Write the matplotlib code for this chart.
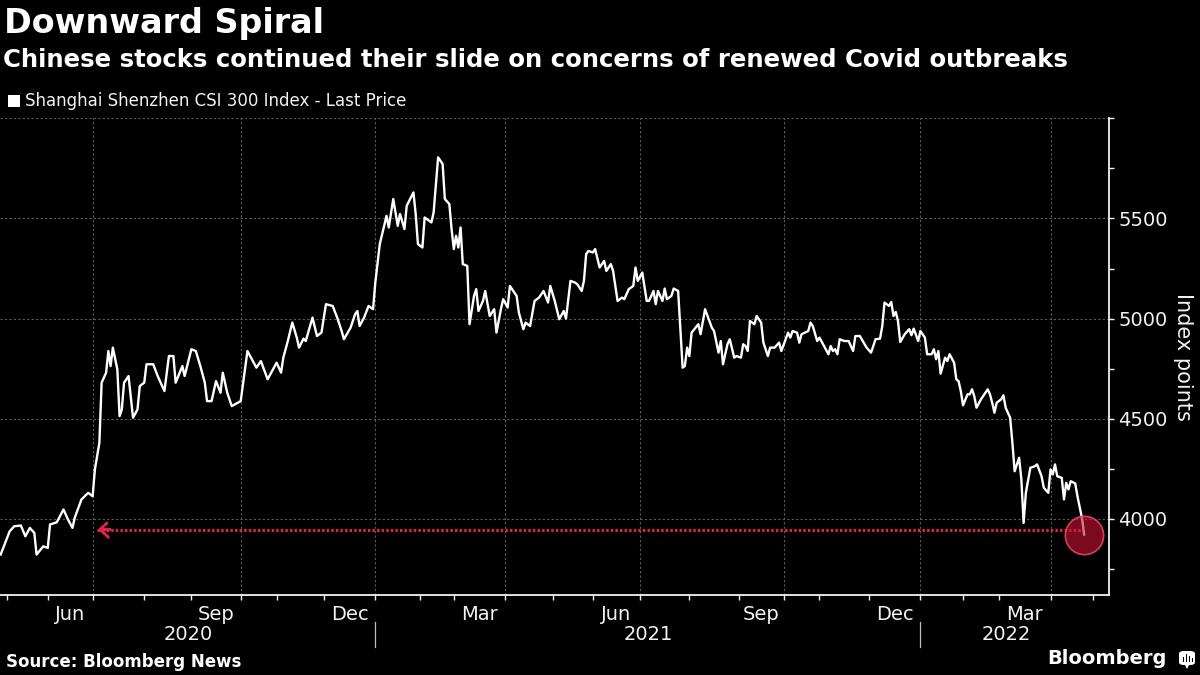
import numpy as np
import matplotlib
matplotlib.use("Agg")
import matplotlib.pyplot as plt
import matplotlib.transforms as mtransforms
from matplotlib.patches import Rectangle, FancyBboxPatch, Polygon

plt.rcParams['font.family'] = ['DejaVu Sans']

# CSI 300 closes, x = trading session number counted from late April 2020
sessions = [0, 2, 4, 6, 9, 11, 13, 15, 16, 19, 21, 22, 25, 28, 30, 32, 33, 36, 39, 41,
            42, 44, 45, 47, 48, 49, 50, 52, 53, 54, 55, 57, 59, 61, 62, 64, 65, 68, 70, 73,
            75, 77, 78, 81, 82, 85, 87, 89, 91, 92, 94, 96, 98, 99, 101, 103, 107, 110, 112, 114,
            116, 119, 123, 125, 126, 128, 130, 132, 133, 135, 136, 139, 141, 143, 145, 148, 150, 152, 153, 156,
            158, 159, 160, 162, 164, 166, 167, 169, 172, 173, 175, 177, 178, 180, 181, 184, 185, 186, 188, 189,
            192, 193, 195, 197, 198, 200, 201, 202, 203, 204, 205, 206, 208, 209, 211, 212, 213, 215, 216, 218,
            220, 221, 223, 224, 226, 227, 230, 231, 233, 234, 236, 238, 240, 242, 244, 245, 247, 249, 251, 252,
            254, 256, 257, 259, 260, 261, 262, 264, 265, 267, 269, 270, 272, 273, 275, 277, 278, 280, 282, 283,
            284, 286, 288, 289, 291, 292, 293, 295, 296, 297, 299, 300, 302, 303, 304, 305, 306, 307, 308, 311,
            312, 314, 317, 318, 320, 321, 322, 324, 325, 327, 328, 330, 331, 332, 333, 334, 336, 337, 339, 340,
            342, 343, 345, 347, 348, 351, 352, 353, 355, 356, 357, 360, 361, 362, 364, 365, 367, 369, 370, 371,
            372, 373, 374, 376, 378, 380, 381, 383, 386, 388, 390, 392, 393, 394, 396, 397, 398, 399, 400, 401,
            403, 405, 406, 407, 409, 410, 412, 413, 415, 416, 417, 418, 419, 421, 422, 423, 425, 426, 427, 428,
            429, 431, 432, 433, 434, 435, 437, 440, 441, 442, 443, 444, 446, 447, 448, 450, 451, 452, 453, 454,
            455, 456, 457, 459, 461, 462, 464, 465, 467, 468, 469, 470, 471, 473, 474, 475, 476, 477, 479, 480,
            482, 483]
prices = [3822, 3880, 3938, 3963, 3967, 3913, 3955, 3930, 3822, 3863, 3855, 3972, 3983, 4047, 3997, 3955, 4005, 4097, 4130, 4113,
          4247, 4380, 4680, 4730, 4838, 4763, 4855, 4747, 4513, 4547, 4680, 4713, 4505, 4547, 4663, 4680, 4772, 4772, 4713, 4638,
          4813, 4813, 4680, 4763, 4713, 4847, 4838, 4763, 4680, 4588, 4588, 4688, 4630, 4730, 4630, 4563, 4588, 4838, 4797, 4755,
          4788, 4697, 4780, 4730, 4805, 4888, 4980, 4905, 4855, 4900, 4888, 5005, 4913, 4930, 5072, 5063, 5005, 4938, 4897, 4955,
          5022, 5038, 4963, 5005, 5063, 5047, 5180, 5372, 5513, 5455, 5597, 5463, 5522, 5447, 5563, 5630, 5522, 5372, 5355, 5505,
          5480, 5530, 5805, 5772, 5597, 5572, 5447, 5347, 5413, 5355, 5455, 5272, 5263, 4972, 5113, 5147, 5038, 5088, 5138, 5013,
          5047, 4930, 5047, 5097, 5055, 5163, 5113, 5030, 4947, 4980, 4963, 5088, 5105, 5138, 5080, 5163, 5088, 4997, 5038, 5000,
          5188, 5180, 5172, 5138, 5188, 5322, 5338, 5330, 5347, 5255, 5288, 5238, 5272, 5238, 5088, 5105, 5097, 5147, 5163, 5255,
          5188, 5230, 5088, 5088, 5138, 5072, 5138, 5088, 5150, 5097, 5113, 5150, 5138, 4947, 4755, 4763, 4855, 4813, 4930, 4972,
          4922, 5047, 4955, 4938, 4830, 4888, 4772, 4872, 4897, 4805, 4813, 4805, 4872, 4863, 4838, 4988, 4972, 5013, 4980, 4880,
          4813, 4855, 4855, 4880, 4838, 4930, 4905, 4938, 4930, 4880, 4922, 4938, 4980, 4963, 4888, 4905, 4863, 4822, 4863, 4838,
          4847, 4822, 4897, 4888, 4888, 4838, 4913, 4913, 4855, 4830, 4897, 4900, 4963, 5080, 5063, 5083, 5013, 5033, 4988, 4883,
          4922, 4947, 4917, 4950, 4888, 4938, 4905, 4822, 4822, 4847, 4797, 4838, 4725, 4805, 4788, 4822, 4780, 4697, 4688, 4638,
          4567, 4622, 4622, 4647, 4613, 4555, 4597, 4647, 4622, 4580, 4530, 4580, 4597, 4617, 4555, 4505, 4380, 4238, 4272, 4305,
          4197, 3980, 4130, 4255, 4263, 4272, 4213, 4155, 4130, 4247, 4222, 4272, 4213, 4205, 4097, 4180, 4147, 4188, 4177, 4113,
          4005, 3922]

# trading sessions per month (first entry: last sessions of April 2020)
month_names = ['Apr', 'May', 'Jun', 'Jul', 'Aug', 'Sep', 'Oct', 'Nov', 'Dec',
               'Jan', 'Feb', 'Mar', 'Apr', 'May', 'Jun', 'Jul', 'Aug', 'Sep', 'Oct', 'Nov', 'Dec',
               'Jan', 'Feb', 'Mar', 'Apr']
month_years = [2020] * 9 + [2021] * 12 + [2022] * 4
month_days = [3, 18, 20, 23, 21, 22, 16, 21, 23,
              20, 15, 23, 21, 18, 21, 22, 22, 20, 16, 22, 23,
              19, 16, 23, 19]
labelled_months = ['Jun', 'Sep', 'Dec', 'Mar']
quarter_starts = ['Jul', 'Oct', 'Jan', 'Apr']

level_price = 3947      # red dotted level
level_from = 42

y_ticks = [4000, 4500, 5000, 5500, 6000]
y_labels = ['4000', '4500', '5000', '5500', '']
y_minor = [3750, 4250, 4750, 5250, 5750]

BG = 'black'
FG = '#f2f2f2'
GRID = '#5c5c5c'
RED = '#d9244c'

W, H = 1200, 675
fig = plt.figure(figsize=(W / 100, H / 100), dpi=100, facecolor=BG)


def fx(px):
    return px / W


def fy(py):
    return 1 - py / H


ax_l, ax_r, ax_t, ax_b = 0, 1109.3, 118.3, 595
ax = fig.add_axes([fx(ax_l), fy(ax_b), fx(ax_r - ax_l), (ax_b - ax_t) / H])
ax.set_facecolor(BG)

starts = np.concatenate([[0], np.cumsum(month_days)])
xmax = 494.2
ax.set_xlim(-0.3, xmax)
ax.set_ylim(3620, 6000)

# grid
for i, m in enumerate(month_names):
    if i > 0 and m in quarter_starts:
        ax.axvline(starts[i], color=GRID, lw=0.8, ls=(0, (2, 2)), zorder=1)
for v in y_ticks:
    ax.axhline(v, color=GRID, lw=0.8, ls=(0, (2, 2)), zorder=1)

ax.plot(sessions, prices, color='white', lw=1.7, zorder=3, solid_joinstyle='round')

# red level line + arrow
ax.hlines(level_price, level_from + 1, sessions[-1], color=RED, lw=2.2,
          linestyles=(0, (0.8, 0.7)), zorder=2)
ax.annotate('', xy=(level_from, level_price), xytext=(level_from + 8, level_price),
            arrowprops=dict(arrowstyle='->,head_length=0.6,head_width=0.55',
                            color=RED, lw=2.2, ls=(0, (0.8, 0.7))), zorder=2)
ax.scatter([sessions[-1]], [prices[-1]], s=760, facecolor=(0.8, 0.08, 0.2, 0.6),
           edgecolor=(0.88, 0.25, 0.4, 0.95), lw=1.2, zorder=4)

# axes styling
for s in ['top', 'left']:
    ax.spines[s].set_visible(False)
for s in ['bottom', 'right']:
    ax.spines[s].set_color(FG)
    ax.spines[s].set_linewidth(1.3)

ax.yaxis.tick_right()
ax.set_yticks(y_ticks)
ax.set_yticklabels(y_labels)
ax.set_yticks(y_minor, minor=True)
ax.tick_params(axis='y', which='both', colors=FG, labelcolor=FG, labelsize=14,
               length=3.5, width=1, pad=3, direction='out')

mids = [(starts[i] + starts[i + 1]) / 2 for i, m in enumerate(month_names) if m in labelled_months]
mlabels = [m for m in month_names if m in labelled_months]
ax.set_xticks(mids)
ax.set_xticklabels(mlabels)
ax.set_xticks(starts[1:], minor=True)
ax.tick_params(axis='x', which='major', length=0, pad=7, labelsize=14, labelcolor=FG)
ax.tick_params(axis='x', which='minor', length=3.5, width=1, color=FG, direction='out')

# year labels and separators
trans = mtransforms.blended_transform_factory(ax.transData, ax.transAxes)
years = sorted(set(month_years))
for yr in years:
    idx = [i for i, y in enumerate(month_years) if y == yr]
    x0 = max(starts[idx[0]], ax.get_xlim()[0])
    x1 = min(starts[idx[-1] + 1], xmax)
    ax.text((x0 + x1) / 2, -0.083, str(yr), transform=trans, ha='center', va='center',
            fontsize=14, color=FG)
    if yr != years[0]:
        ax.plot([starts[idx[0]]] * 2, [-0.057, -0.11], transform=trans, color='#bfbfbf',
                lw=0.9, clip_on=False)

ax.text(1.0 + (1183 - ax_r) / (ax_r - ax_l), 0.5 + (476.7 / 2 - (357 - ax_t)) / 476.7,
        'Index points', transform=ax.transAxes, rotation=270, ha='center', va='center',
        fontsize=15, color=FG)

# titles
fig.text(fx(4), fy(24), 'Downward Spiral', fontsize=24, fontweight='bold', color='white',
         ha='left', va='center')
fig.text(fx(3), fy(60), 'Chinese stocks continued their slide on concerns of renewed Covid outbreaks',
         fontsize=17.6, fontweight='bold', color='white', ha='left', va='center')
fig.patches.append(Rectangle((fx(8), fy(107)), fx(12), 12 / H, transform=fig.transFigure,
                             facecolor='white', edgecolor='none'))
fig.text(fx(25), fy(101), 'Shanghai Shenzhen CSI 300 Index - Last Price', fontsize=12,
         color=FG, ha='left', va='center')

fig.text(fx(6), fy(662), 'Source: Bloomberg News', fontsize=12, fontweight='bold',
         color='white', ha='left', va='center')
fig.text(fx(1167), fy(659), 'Bloomberg', fontsize=14, fontweight='bold', color='white',
         ha='right', va='center')

# little Bloomberg icon
fig.patches.append(FancyBboxPatch((fx(1179), fy(665)), fx(16), 14 / H,
                                  boxstyle='round,pad=0,rounding_size=0.004',
                                  transform=fig.transFigure, facecolor='white', edgecolor='none'))
fig.patches.append(Polygon([[fx(1185), fy(665)], [fx(1189), fy(665)], [fx(1187), fy(669)]],
                           closed=True, transform=fig.transFigure, facecolor='white'))
for bx, bh in zip([1182.5, 1185.5, 1188.5, 1191.5], [5, 8, 6, 4]):
    fig.patches.append(Rectangle((fx(bx), fy(662)), fx(1.6), bh / H, transform=fig.transFigure,
                                 facecolor='black', edgecolor='none'))

fig.savefig('out.png', dpi=100, facecolor=BG)
